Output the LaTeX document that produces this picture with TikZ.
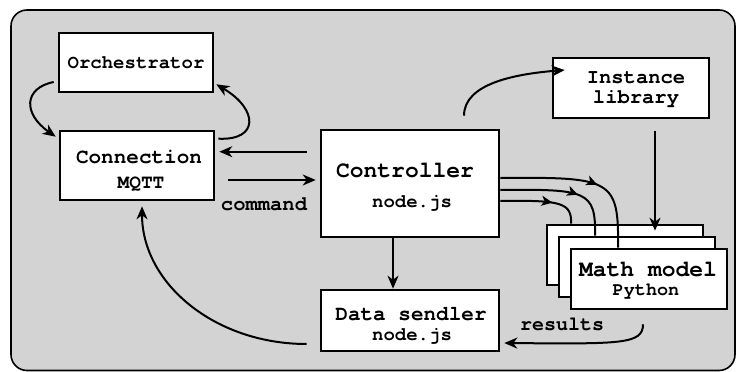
\documentclass[tikz,border=0pt]{standalone}
\usepackage{fontspec}
\usetikzlibrary{arrows.meta,calc,decorations.markings}
\newfontfamily\cour{texgyrecursor}[Extension=.otf, UprightFont=*-regular, BoldFont=*-bold]
\newcommand{\myfs}[1]{\cour\bfseries\fontsize{#1pt}{#1pt}\selectfont}
\newcommand{\myfsb}[2]{\cour\bfseries\fontsize{#1pt}{#2pt}\selectfont}
\definecolor{bgc}{RGB}{211,211,211}
\tikzset{
  box/.style={draw, line width=2.6pt, fill=white, inner sep=0pt},
  lbl/.style={anchor=base, inner sep=0pt},
  arr/.style={line width=2pt, -{Stealth[length=13pt,width=11pt,inset=4pt]}},
  midarr/.style={line width=2pt, decoration={markings, mark=at position #1 with {\arrow{Stealth[length=11pt,width=10pt,inset=3pt]}}}, postaction={decorate}},
}
\begin{document}
\begin{tikzpicture}[x=1pt,y=-1pt]
\useasboundingbox (0,0) rectangle (739,372);
\draw[line width=1.6pt, fill=bgc, rounded corners=16pt] (11,10) rectangle (735,370.5);

% boxes
\node[box, minimum width=154pt, minimum height=59pt] (orch) at (136,62.5) {};
\node[box, minimum width=154pt, minimum height=69pt] (conn) at (137,165.5) {};
\node[box, minimum width=178pt, minimum height=107pt] (ctrl) at (410,183.5) {};
\node[box, minimum width=156pt, minimum height=60pt] (inst) at (631,88) {};
\node[box, minimum width=178pt, minimum height=61pt] (data) at (410,320.5) {};
\node[box, minimum width=156pt, minimum height=60pt] (mm1) at (625,255) {};
\node[box, minimum width=156pt, minimum height=60pt] (mm2) at (637,267) {};
\node[box, minimum width=156pt, minimum height=60pt] (mm3) at (649,279) {};

% texts
\node[lbl] (t-orch) at (136,68) {\myfs{19}Orchestrator};
\node[lbl] (t-conn1) at (139,163) {\myfs{21}Connection};
\node[lbl] (t-conn2) at (141,188) {\myfs{19.5}MQTT};
\node[lbl] (t-ctrl1) at (405,177) {\myfs{23}Controller};
\node[lbl] (t-ctrl2) at (412,207) {\myfs{19}node.js};
\node[anchor=north, inner sep=0pt, align=center, font=\myfsb{20.5}{20.5}] (t-inst) at (636,71) {Instance\\library};
\node[lbl] (t-mm1) at (648,276) {\myfs{23}Math model};
\node[lbl] (t-mm2) at (646,295) {\myfs{18.5}Python};
\node[lbl] (t-data1) at (411,320) {\myfs{21}Data sendler};
\node[lbl] (t-data2) at (412,340) {\myfs{19}node.js};
\node[lbl] (t-cmd) at (264,210) {\myfs{20.5}command};
\node[lbl] (t-res) at (562,330) {\myfs{20}results};

% connectors
\draw[arr] ($(orch.west)+(-4,19.5)$) .. controls +(-30,6) and +(-33,-23) .. ($(conn.north west)+(-3,7)$);
\draw[arr] ($(conn.north east)+(3,9)$) .. controls +(41,2) and +(42,25) .. ($(orch.south east)+(2,-9)$);
\draw[arr] ($(ctrl.north west)+(-13,23)$) -- ($(conn.north east)+(4,22)$);
\draw[arr] ($(conn.east)+(13,14.5)$) -- ($(ctrl.west)+(-4,-3.5)$);
\draw[arr] ($(ctrl.north)+(54,-13)$) .. controls +(0,-32) and +(-50,4) .. ($(inst.west)+(13,-18)$);
\draw[arr] ($(inst.south)+(24,12)$) -- ($(mm1.north)+(30,7)$);
\draw[arr] ($(ctrl.south)+(-17,0)$) -- ($(data.north)+(-17,0)$);
\draw[arr] ($(data.west)+(-13,23.5)$) .. controls +(-92,0) and +(0,77) .. ($(conn.south)+(5,5)$);
\draw[arr] ($(mm3.south)+(-6,14)$) .. controls +(0,20) and +(117,1) .. ($(data.east)+(4,22.5)$);

\draw[midarr=0.58] ($(ctrl.east)+(0,-5.5)$) .. controls +(111,-1) and +(1,-69) .. ($(mm3.north)+(-31,0)$);
\draw[midarr=0.62] ($(ctrl.east)+(0,6.5)$) .. controls +(86,-1) and +(1,-45) .. ($(mm2.north)+(-42,0)$);
\draw[midarr=0.62] ($(ctrl.east)+(0,17.5)$) .. controls +(61,-1) and +(1,-21) .. ($(mm1.north)+(-54,0)$);
\end{tikzpicture}
\end{document}
